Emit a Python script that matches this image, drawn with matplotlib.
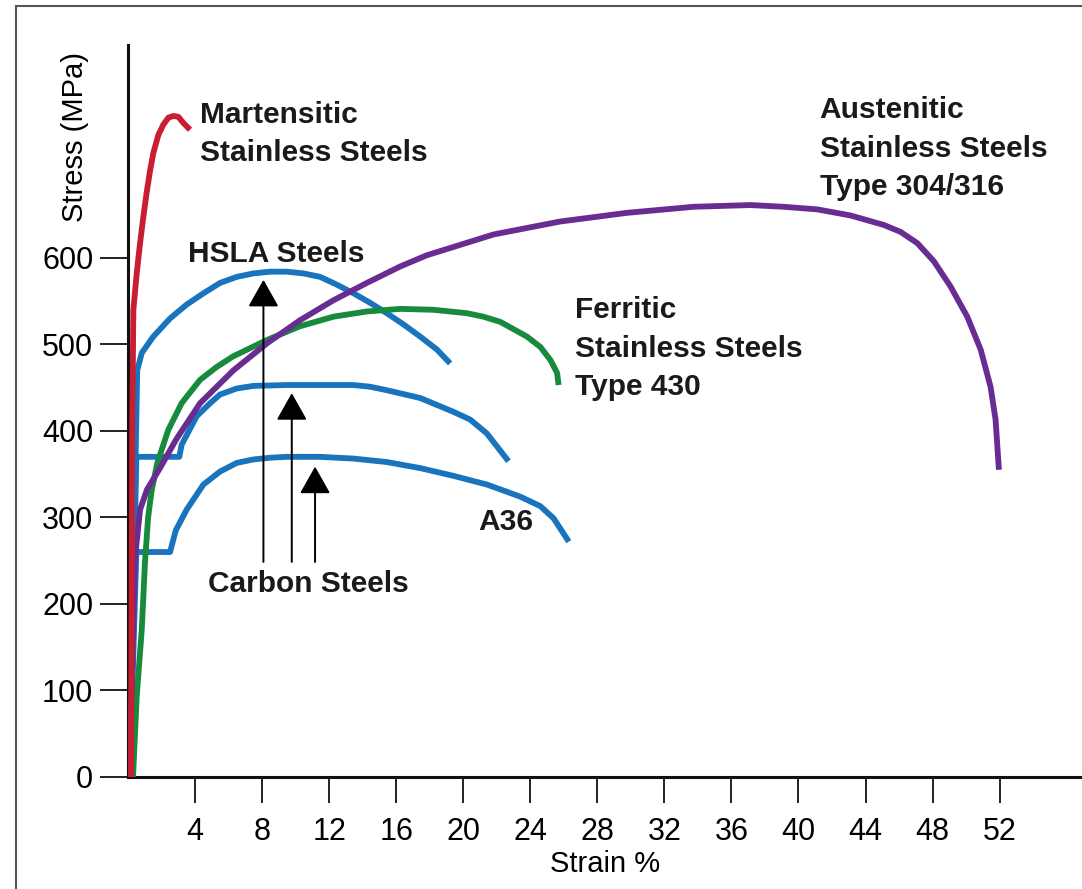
import matplotlib
matplotlib.use("Agg")
import matplotlib.pyplot as plt
from matplotlib.lines import Line2D

plt.rcParams['font.family'] = ['Liberation Sans', 'DejaVu Sans']

# stress-strain curves (strain %, stress MPa)
martensitic_strain = [0.18, 0.25, 0.32, 0.52, 0.72, 0.92, 1.11, 1.31, 1.51, 1.81, 2.11, 2.41, 2.71, 3.00, 3.30, 3.70]
martensitic_stress = [0, 400, 540, 582, 617, 648, 675, 700, 721, 742, 754, 762, 764, 763, 756, 748]

hsla_strain = [0.1, 0.55, 0.82, 1.51, 2.51, 3.50, 4.50, 5.49, 6.49, 7.48, 8.48, 9.47, 10.47, 11.46,
               12.46, 13.45, 14.45, 15.44, 16.44, 17.43, 18.43, 19.22]
hsla_stress = [0, 470, 490, 509, 530, 546, 559, 571, 578, 582, 584, 584, 582, 578,
               569, 559, 548, 536, 523, 509, 494, 478]

carbon_strain = [0.1, 0.5, 3.06, 3.20, 4.10, 4.90, 5.49, 6.49, 7.48, 9.47, 13.45, 14.45, 15.44,
                 17.43, 19.42, 20.42, 21.41, 22.70]
carbon_stress = [0, 370, 370, 384, 417, 432, 442, 449, 452, 453, 453, 451, 447,
                 438, 422, 413, 397, 365]

a36_strain = [0.1, 0.5, 2.51, 2.85, 3.50, 4.50, 5.49, 6.49, 7.48, 8.48, 9.47, 11.46, 13.45, 15.44,
              17.43, 19.42, 21.41, 23.40, 24.60, 25.39, 26.30]
a36_stress = [0, 260, 260, 285, 309, 338, 353, 363, 367, 369, 370, 370, 368, 364,
              357, 348, 338, 324, 313, 299, 272]

ferritic_strain = [0.3, 0.52, 0.82, 1.01, 1.2, 1.4, 1.75, 2.4, 3.2, 4.3, 5.3, 6.26, 8.28, 10.27,
                   12.26, 14.25, 16.24, 18.2, 20.22, 21.2, 22.21, 23.80, 24.6, 25.2, 25.6, 25.69]
ferritic_stress = [0, 93, 170, 247, 300, 330, 363, 401, 432, 459, 474, 486, 505, 521,
                   532, 538, 541, 540, 536, 532, 526, 509, 497, 482, 467, 453]

austenitic_strain = [0.1, 0.4, 0.72, 1.13, 1.91, 2.87, 4.30, 6.29, 8.28, 10.27, 12.26, 14.25, 16.24,
                     17.83, 21.81, 25.79, 29.77, 33.75, 37.13, 39.12, 41.12, 43.10, 45.09, 46.09,
                     47.09, 48.08, 49.07, 50.07, 50.87, 51.46, 51.76, 51.96]
austenitic_stress = [0, 250, 309, 332, 357, 390, 432, 470, 501, 528, 551, 571, 590,
                     603, 627, 642, 652, 659, 661, 659, 656, 649, 638, 630,
                     617, 596, 567, 532, 494, 451, 413, 355]

x_ticks = [4, 8, 12, 16, 20, 24, 28, 32, 36, 40, 44, 48, 52]
y_ticks = [0, 100, 200, 300, 400, 500, 600]

# carbon steel arrows: strain position, tip stress
arrow_x = [8.08, 9.77, 11.16]
arrow_tip = [574.6, 443.6, 358.7]
arrow_base = 248.6

fig = plt.figure(figsize=(10.82, 8.89), dpi=100)
ax = fig.add_axes([0.1183, 0.1260, 0.8799, 0.8234])

blue = '#1A74BD'
lw = 4.2
style = dict(lw=lw, solid_capstyle='butt', solid_joinstyle='round')
for xs, ys in [(hsla_strain, hsla_stress), (carbon_strain, carbon_stress), (a36_strain, a36_stress)]:
    ax.plot(xs, ys, color=blue, zorder=2, **style)
ax.plot(ferritic_strain, ferritic_stress, color='#178A3C', zorder=3, **style)
ax.plot(austenitic_strain, austenitic_stress, color='#692D91', zorder=4, **style)
ax.plot(martensitic_strain, martensitic_stress, color='#C81E32', zorder=5, **style)

for x, tip in zip(arrow_x, arrow_tip):
    ax.annotate('', xy=(x, tip), xytext=(x, arrow_base),
                arrowprops=dict(arrowstyle='-|>,head_length=0.85,head_width=0.48', color='black',
                                lw=1.4, mutation_scale=20, shrinkA=0, shrinkB=0), zorder=6)

ax.set_xlim(0, 56.8)
ax.set_ylim(0, 846)
for s in ['top', 'right']:
    ax.spines[s].set_visible(False)
for s in ['left', 'bottom']:
    ax.spines[s].set_linewidth(2.2)
    ax.spines[s].set_color('#111111')

ax.set_xticks(x_ticks)
ax.set_yticks(y_ticks)
ax.tick_params(axis='x', length=18.7, width=1.4, pad=10, labelsize=22, color='#222222')
ax.tick_params(axis='y', length=20, width=1.4, pad=5, labelsize=22, color='#222222')

ax.text(-3.16, 740, 'Stress (MPa)', rotation=90, ha='center', va='center', fontsize=21, clip_on=False)
ax.text(28.48, -100.6, 'Strain %', ha='center', va='center', fontsize=21, clip_on=False)

# curve labels: left x, first baseline y, lines
labels = [
    (4.30, 756, ['Martensitic', 'Stainless Steels']),
    (3.58, 595.7, ['HSLA Steels']),
    (26.69, 530.3, ['Ferritic', 'Stainless Steels', 'Type 430']),
    (41.27, 761.5, ['Austenitic', 'Stainless Steels', 'Type 304/316']),
    (20.91, 285.5, ['A36']),
    (4.79, 214.2, ['Carbon Steels']),
]
for x, y, lines in labels:
    for i, line in enumerate(lines):
        ax.annotate(line, xy=(x, y), xytext=(0, -27.7 * i), textcoords='offset points',
                    ha='left', va='baseline', fontsize=21.5, fontweight='bold', color='#1a1a1a')

# outer frame (left and top edges only visible)
fig.add_artist(Line2D([16 / 1082, 16 / 1082], [0, 1 - 6 / 889], transform=fig.transFigure,
                      color='#555555', lw=1.5))
fig.add_artist(Line2D([16 / 1082, 1], [1 - 6 / 889, 1 - 6 / 889], transform=fig.transFigure,
                      color='#555555', lw=1.5))

fig.savefig('out.png', dpi=100)
